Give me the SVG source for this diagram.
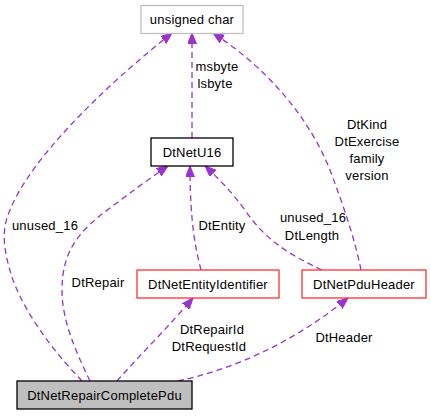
<svg xmlns="http://www.w3.org/2000/svg" width="431" height="416" viewBox="0 0 431 416">
<style>
text{font-family:"Liberation Sans",Arial,sans-serif;font-size:13px;fill:#000;text-anchor:middle;letter-spacing:0.2px}
.box{fill:#fff;stroke-width:1.3}
.e{fill:none;stroke:#9a32cd;stroke-width:1.3;stroke-dasharray:6,4;marker-end:url(#a)}
</style>
<defs>
<marker id="a" markerUnits="userSpaceOnUse" markerWidth="12" markerHeight="10" refX="11" refY="4.5" orient="auto">
<path d="M0,0 L11,4.5 L0,9 z" fill="#9a32cd" stroke="#9a32cd"/>
</marker>
</defs>
<rect width="431" height="416" fill="#fff"/>
<g id="connectors">
<path class="e" d="M82,381 C60,358 28,320 13,280 C3,250 1,230 10,210 C30,160 100,90 172,33"/>
<path class="e" d="M90,381 C75,350 62,320 62,290 C62,250 80,230 110,208 C130,193 150,178 168,166"/>
<path class="e" d="M201,270 C196,250 190,225 190,166"/>
<path class="e" d="M322,270 C290,255 265,240 245,210 C230,190 218,178 205,166"/>
<path class="e" d="M361,270 C355,240 345,210 330,170 C310,120 270,70 213,33"/>
<path class="e" d="M192,138 L192,33"/>
<path class="e" d="M117,381 C140,355 170,325 193,298"/>
<path class="e" d="M178,381 C230,370 290,345 348,298"/>
<text x="217" y="71">msbyte</text>
<text x="215" y="88">lsbyte</text>
<text x="367" y="129">DtKind</text>
<text x="367" y="146">DtExercise</text>
<text x="367" y="163">family</text>
<text x="367" y="180">version</text>
<text x="45" y="230">unused_16</text>
<text x="98" y="287">DtRepair</text>
<text x="222" y="230">DtEntity</text>
<text x="313" y="222">unused_16</text>
<text x="312" y="240">DtLength</text>
<text x="212" y="334">DtRepairId</text>
<text x="209" y="351">DtRequestId</text>
<text x="344" y="342">DtHeader</text>
</g>
<g id="unsigned_char">
<rect class="box" x="141" y="5.5" width="102" height="28" stroke="#bfbfbf"/>
<text x="192" y="24">unsigned char</text>
</g>
<g id="DtNetU16">
<rect class="box" x="151" y="138" width="82" height="28" stroke="#000"/>
<text x="192" y="157">DtNetU16</text>
</g>
<g id="DtNetEntityIdentifier">
<rect class="box" x="137" y="270" width="142" height="28" stroke="#ff3030"/>
<text x="208" y="289">DtNetEntityIdentifier</text>
</g>
<g id="DtNetPduHeader">
<rect class="box" x="302" y="270" width="124" height="28" stroke="#ff3030"/>
<text x="364" y="289">DtNetPduHeader</text>
</g>
<g id="DtNetRepairCompletePdu">
<rect x="17" y="381" width="175" height="28" fill="#bfbfbf" stroke="#000" stroke-width="1.3"/>
<text x="104.5" y="400">DtNetRepairCompletePdu</text>
</g>
</svg>
